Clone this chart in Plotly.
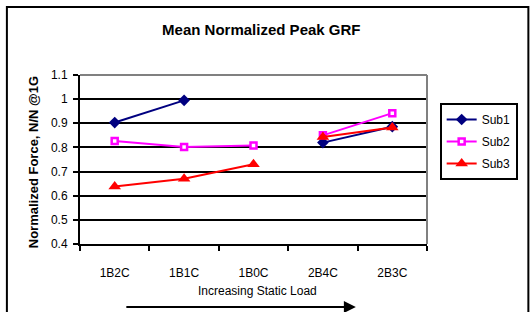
import plotly.graph_objects as go

categories = ["1B2C", "1B1C", "1B0C", "2B4C", "2B3C"]
sub1 = [0.903, 0.995, None, 0.820, 0.886]
sub2 = [0.827, 0.802, 0.808, 0.850, 0.942]
sub3 = [0.638, 0.670, 0.730, 0.843, 0.883]
# lines are broken between the two load groups
groups = [[0, 1, 2], [3, 4]]
y_ticks = [0.4, 0.5, 0.6, 0.7, 0.8, 0.9, 1.0, 1.1]
y_tick_labels = ["0.4", "0.5", "0.6", "0.7", "0.8", "0.9", "1", "1.1"]

series = [
    ("Sub1", sub1, "#000080", dict(symbol="diamond", size=9, color="#000080")),
    ("Sub2", sub2, "#FF00FF", dict(symbol="square", size=6, color="white",
                                   line=dict(color="#FF00FF", width=2.5))),
    ("Sub3", sub3, "#FF0000", dict(symbol="triangle-up", size=11, color="#FF0000")),
]

fig = go.Figure()
for name, vals, col, mk in series:
    for gi, g in enumerate(groups):
        fig.add_trace(go.Scatter(
            x=[categories[i] for i in g], y=[vals[i] for i in g],
            mode="lines+markers", name=name, legendgroup=name,
            showlegend=(gi == 0), line=dict(color=col, width=2),
            marker=mk, connectgaps=False))

L, R, T, B = 80, 436, 75, 244
W, H = 530, 312
pw, ph = R - L, B - T

def px(x):
    return (x - L) / pw

def py(y):
    return (B - y) / ph

fig.update_layout(
    width=W, height=H,
    margin=dict(l=L, r=W - R, t=T, b=H - B),
    paper_bgcolor="white", plot_bgcolor="white",
    font=dict(family="Liberation Sans, Arial", size=12, color="black"),
    title=dict(text="<b>Mean Normalized Peak GRF</b>", x=px(266), xref="paper",
               xanchor="center", y=1 - 30 / H, yanchor="middle",
               font=dict(size=15)),
    showlegend=True,
    legend=dict(x=px(449), y=py(103), xanchor="left", yanchor="top",
                bordercolor="black", borderwidth=2, bgcolor="white",
                font=dict(size=12), tracegroupgap=3),
    xaxis=dict(type="category", categoryorder="array", categoryarray=categories,
               tickson="boundaries", ticks="outside", ticklen=5, tickwidth=1.5,
               tickcolor="black", showline=True, linecolor="black", linewidth=2,
               showgrid=False, ticklabelstandoff=17, range=[-0.5, 4.5],
               tickfont=dict(size=12)),
    yaxis=dict(range=[0.4, 1.1], tickvals=y_ticks, ticktext=y_tick_labels,
               ticks="outside", ticklen=5, tickwidth=1.5, tickcolor="black",
               showline=True, linecolor="black", linewidth=2,
               showgrid=True, gridcolor="black", gridwidth=1.5,
               zeroline=False, tickfont=dict(size=12), ticklabelstandoff=3),
)

fig.add_annotation(text="<b>Normalized Force, N/N @1G</b>", xref="paper", yref="paper",
                   x=px(32), y=py(162), textangle=-90, showarrow=False,
                   font=dict(size=13), xanchor="center", yanchor="middle")
fig.add_annotation(text="Increasing Static Load", xref="paper", yref="paper",
                   x=px(262), y=py(291), showarrow=False, font=dict(size=12),
                   xanchor="center", yanchor="middle")
fig.add_annotation(text="", xref="paper", yref="paper", x=px(363), y=py(307),
                   ax=-231, ay=0, showarrow=True, arrowhead=2, arrowsize=1.2,
                   arrowwidth=2, arrowcolor="black")

# plot-area top and right edges (gray)
fig.add_shape(type="line", xref="paper", yref="paper", x0=0, x1=1, y0=1, y1=1,
              line=dict(color="#808080", width=2), layer="above")
fig.add_shape(type="line", xref="paper", yref="paper", x0=1, x1=1, y0=0, y1=1,
              line=dict(color="#808080", width=2), layer="above")
# outer chart border
fig.add_shape(type="rect", xref="paper", yref="paper", x0=px(5), x1=px(540),
              y0=py(330), y1=py(7), line=dict(color="black", width=2),
              fillcolor="rgba(0,0,0,0)", layer="above")

fig.write_html("out.html", config={"displayModeBar": False},
               post_script="document.body.style.margin='0';document.body.style.padding='0';")
